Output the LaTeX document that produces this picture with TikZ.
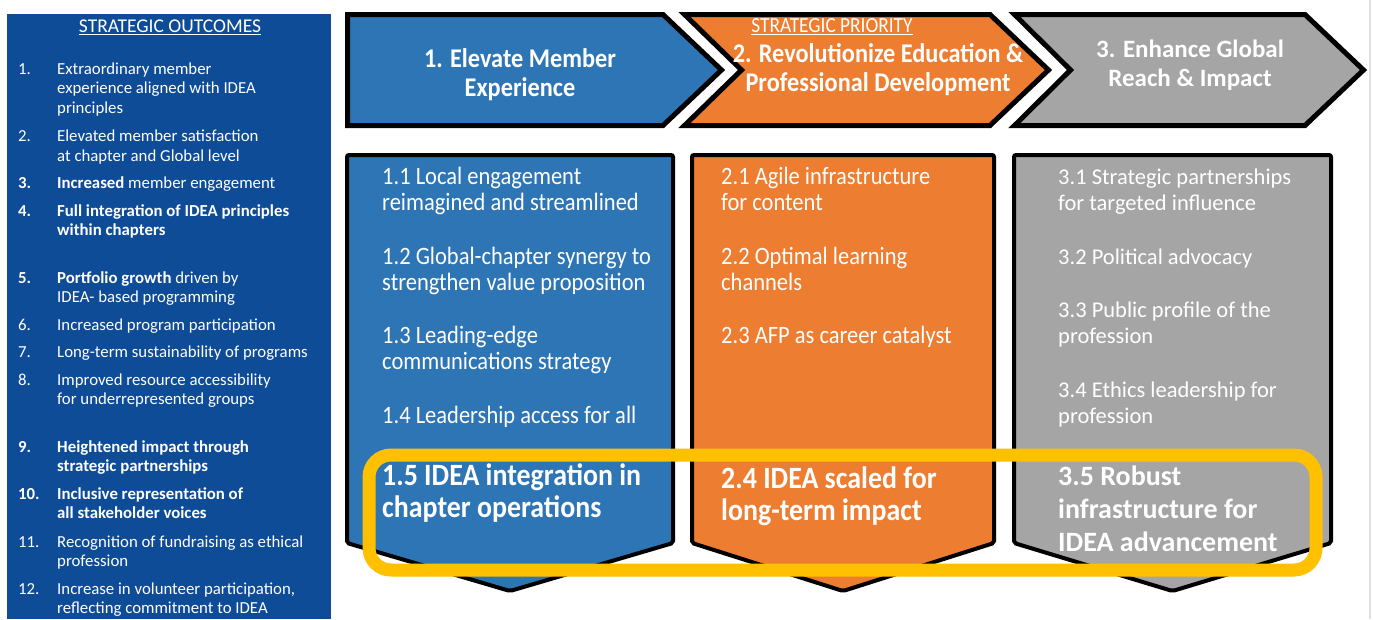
\documentclass[tikz,border=0pt]{standalone}
\usepackage{fontspec}
\setmainfont{Carlito}
\newfontfamily\narrowfont{Carlito}[FakeStretch=0.9]
\definecolor{outblue}{HTML}{0F4C97}
\definecolor{prblue}{HTML}{2E75B6}
\definecolor{prorange}{HTML}{ED7D31}
\definecolor{prgray}{HTML}{A5A5A5}
\definecolor{ideayellow}{HTML}{FFC000}

\begin{document}
\begin{tikzpicture}[
            x=1pt, y=-1pt,
            every node/.style = {inner sep=0pt, text=white},
            outitem/.style = {anchor=base west, align=left, font=\fontsize{16.8}{19.8}\selectfont},
            chev/.style = {draw=black, line width=5pt, line join=miter},
            goalbox/.style = {draw=black, line width=4pt, rounded corners=2pt},
            head/.style = {align=center, font=\narrowfont\bfseries\fontsize{27}{29}\selectfont},
            goal/.style = {anchor=base west, align=left, font=\narrowfont\fontsize{25}{26.5}\selectfont},
            biggoal/.style = {anchor=base west, align=left, font=\narrowfont\bfseries\fontsize{31}{32}\selectfont},
            graygoal/.style = {anchor=base west, align=left, font=\fontsize{22.5}{26}\selectfont}
        ]
        \path[use as bounding box, fill=white] (0,0) rectangle (1373,619);
        \draw[black!12, line width=2pt] (1370,0) -- (1370,619);

        \fill[outblue] (7,14) rectangle (331,619);
        \node[font=\fontsize{19.5}{22}\selectfont] (otitle) at (170,27) {\underline{STRATEGIC OUTCOMES}};
        \foreach \y/\k/\n/\t [count=\i] in {
            74/3/{1.}/{Extraordinary member\\experience aligned with IDEA\\principles},
            141.5/2/{2.}/{Elevated member satisfaction\\at chapter and Global level},
            188/1/{\textbf{3.}}/{\textbf{Increased} member engagement},
            216/2/{\textbf{4.}}/{\textbf{Full integration of IDEA principles}\\\textbf{within chapters}},
            283/2/{\textbf{5.}}/{\textbf{Portfolio growth} driven by\\IDEA- based programming},
            330/1/{6.}/{Increased program participation},
            357/1/{7.}/{Long-term sustainability of programs},
            385/2/{8.}/{Improved resource accessibility\\for underrepresented groups},
            452/2/{\textbf{9.}}/{\textbf{Heightened impact through}\\\textbf{strategic partnerships}},
            499/2/{\textbf{10.}}/{\textbf{Inclusive representation of}\\\textbf{all stakeholder voices}},
            547/2/{11.}/{Recognition of fundraising as ethical\\profession},
            594/2/{12.}/{Increase in volunteer participation,\\reflecting commitment to IDEA}}
        {
            \node[outitem] (num\i) at (18,\y) {\n};
            \node[outitem] (out\i) at (57,{\y+(\k-1)*19.8}) {\t};
        }

        \draw[chev, fill=prblue] (347.5,14.5) -- (663,14.5) -- (721.5,70) -- (663,125.5) -- (347.5,125.5) -- cycle;
        \draw[chev, fill=prorange] (684.5,14.5) -- (990,14.5) -- (1048.5,70) -- (990,125.5) -- (684.5,125.5) -- (741.5,70) -- cycle;
        \draw[chev, fill=prgray] (1014.5,14.5) -- (1305,14.5) -- (1363.5,70) -- (1305,125.5) -- (1014.5,125.5) -- (1070.5,70) -- cycle;
        \node[head] (p1) at (520,75) {1. Elevate Member\\Experience};
        \node[font=\narrowfont\fontsize{21.5}{24}\selectfont] (prio) at (832,27) {\underline{STRATEGIC PRIORITY}};
        \node[head] (p2) at (878,70) {2. Revolutionize Education \&\\Professional Development};
        \node[head, font=\bfseries\fontsize{25}{29}\selectfont] (p3) at (1190,65) {3. Enhance Global\\Reach \& Impact};

        \draw[goalbox, fill=prblue] (347,155) -- (673,155) -- (673,543) -- (510,591) -- (347,543) -- cycle;
        \draw[goalbox, fill=prorange] (692,155) -- (994,155) -- (994,543) -- (843,591) -- (692,543) -- cycle;
        \draw[goalbox, fill=prgray] (1014,155) -- (1331,155) -- (1331,543) -- (1172.5,591) -- (1014,543) -- cycle;

        \draw[ideayellow, line width=13pt, rounded corners=22pt] (369,455) rectangle (1316,570);

        \node[goal] (g11) at (382,210.5) {1.1 Local engagement\\reimagined and streamlined};
        \node[goal] (g12) at (382,290.5) {1.2 Global-chapter synergy to\\strengthen value proposition};
        \node[goal] (g13) at (382,369.5) {1.3 Leading-edge\\communications strategy};
        \node[goal] (g14) at (382,423) {1.4 Leadership access for all};
        \node[biggoal] (g15) at (382,517) {1.5 IDEA integration in\\chapter operations};

        \node[goal] (g21) at (721,210.5) {2.1 Agile infrastructure\\for content};
        \node[goal] (g22) at (721,290.5) {2.2 Optimal learning\\channels};
        \node[goal] (g23) at (721,343) {2.3 AFP as career catalyst};
        \node[biggoal] (g24) at (721,520) {2.4 IDEA scaled for\\long-term impact};

        \node[graygoal] (g31) at (1058,210) {3.1 Strategic partnerships\\for targeted influence};
        \node[graygoal] (g32) at (1058,264) {3.2 Political advocacy};
        \node[graygoal] (g33) at (1058,343) {3.3 Public profile of the\\profession};
        \node[graygoal] (g34) at (1058,423) {3.4 Ethics leadership for\\profession};
        \node[graygoal, font=\bfseries\fontsize{28}{33}\selectfont] (g35) at (1058,551) {3.5 Robust\\infrastructure for\\IDEA advancement};
    \end{tikzpicture}
\end{document}
